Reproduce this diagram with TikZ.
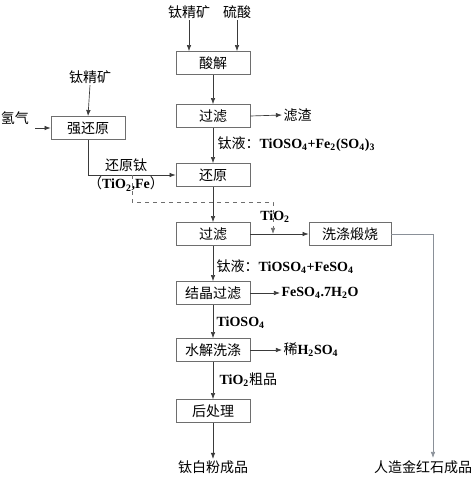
\documentclass[tikz,border=0pt]{standalone}
\usepackage{fontspec}
\setmainfont{Liberation Serif}
\newfontfamily\cjk{Noto Sans CJK SC}
\usetikzlibrary{calc,arrows.meta}
\definecolor{lineGrey}{HTML}{3A3A3A}
\definecolor{boxGrey}{HTML}{6E6E6E}
\definecolor{pathGrey}{HTML}{8A9098}
\newcommand{\sbs}[1]{\textsubscript{#1}}
\newcommand{\zh}[1]{{\cjk\mdseries #1}}
\newcommand{\lat}[1]{{\rmfamily\bfseries #1}}
\tikzset{
  procbox/.style={rectangle, draw=boxGrey, fill=white, line width=0.6pt, align=center, font=\cjk\fontsize{10.5}{12}\selectfont, minimum width=55.5pt, minimum height=17.25pt, inner sep=1pt},
  tag/.style={font=\cjk\fontsize{10.5}{12}\selectfont, inner sep=1pt},
  chem/.style={font=\fontsize{10.5}{12}\selectfont\bfseries, inner sep=1pt, anchor=west},
  flowarrow/.style={-{Latex[length=1.6mm,width=1.2mm]}, line width=0.5pt, draw=lineGrey},
}

\begin{document}
\begin{tikzpicture}[x=0.75pt,y=-0.75pt]
  \useasboundingbox (0,0) rectangle (474,478);

  % --- main column ---
  \node[procbox] (acid) at (213,63) {酸解};
  \node[procbox] (filtA) at (213,116) {过滤};
  \node[procbox] (redu) at (213,175) {还原};
  \node[procbox] (filtB) at (213,234) {过滤};
  \node[procbox] (cryst) at (213,293) {结晶过滤};
  \node[procbox] (hydro) at (213,350) {水解洗涤};
  \node[procbox] (post) at (213,411) {后处理};
  \node[procbox, minimum width=61.5pt] (wash) at (350,234) {洗涤煅烧};
  \node[procbox] (strong) at (88,128) {强还原};

  % --- inputs and outputs ---
  \node[tag] (oreA) at (189,12) {钛精矿};
  \node[tag] (sulf) at (237,12) {硫酸};
  \node[tag] (oreB) at (90,77) {钛精矿};
  \node[tag] (hgas) at (15,118) {氢气};
  \coordinate (hin) at (35,128);
  \node[tag, anchor=west] (slag) at (282,115) {滤渣};
  \node[tag] (white) at (213,467) {钛白粉成品};
  \node[tag] (rutile) at (423,467) {人造金红石成品};
  \coordinate (rdrop) at (433,458);

  % --- stream labels ---
  \node[chem] (liqA) at (216,144) {\zh{钛液：}TiOSO\sbs{4}+Fe\sbs{2}(SO\sbs{4})\sbs{3}};
  \node[tag] (rti) at (126,165) {还原钛};
  \node[tag] (rtiB) at (126,184) {（\lat{TiO\sbs{2},Fe}）};
  \node[chem, anchor=center] (tio) at (275,217) {TiO\sbs{2}};
  \node[chem] (liqB) at (215,267) {\zh{钛液：}TiOSO\sbs{4}+FeSO\sbs{4}};
  \node[chem] (ferr) at (280,293) {FeSO\sbs{4}.7H\sbs{2}O};
  \node[chem] (tiso) at (215,323) {TiOSO\sbs{4}};
  \node[chem] (dilu) at (282,350) {\zh{稀}H\sbs{2}SO\sbs{4}};
  \node[chem] (crude) at (218,380) {TiO\sbs{2}\zh{粗品}};

  % --- connectors ---
  \draw[flowarrow] (oreA.south) -- (oreA.south |- acid.north);
  \draw[flowarrow] (sulf.south) -- (sulf.south |- acid.north);
  \draw[flowarrow] (acid) -- (filtA);
  \draw[flowarrow] (filtA.east) -- (slag.west);
  \draw[flowarrow] (filtA) -- (redu);
  \draw[flowarrow] (redu) -- (filtB);
  \draw[flowarrow] (filtB.east) -- (wash.west);
  \draw[flowarrow] (filtB) -- (cryst);
  \draw[flowarrow] (cryst.east) -- (ferr.west);
  \draw[flowarrow] (cryst) -- (hydro);
  \draw[flowarrow] (hydro.east) -- (dilu.west);
  \draw[flowarrow] (hydro) -- (post);
  \draw[flowarrow] (post) -- (white);

  \draw[flowarrow] (oreB.south) -- (strong.north);
  \draw[flowarrow] (hin) -- (strong.west);
  \draw[flowarrow] (strong.south) |- (redu.west);
  \coordinate (tap) at (132,175);
  \coordinate (drop) at (273,234);
  \draw[flowarrow, dashed, draw=boxGrey] (tap) -- (132,202) -| (drop);

  \draw[flowarrow, draw=pathGrey] (wash.east) -| (rdrop);
\end{tikzpicture}
\end{document}
